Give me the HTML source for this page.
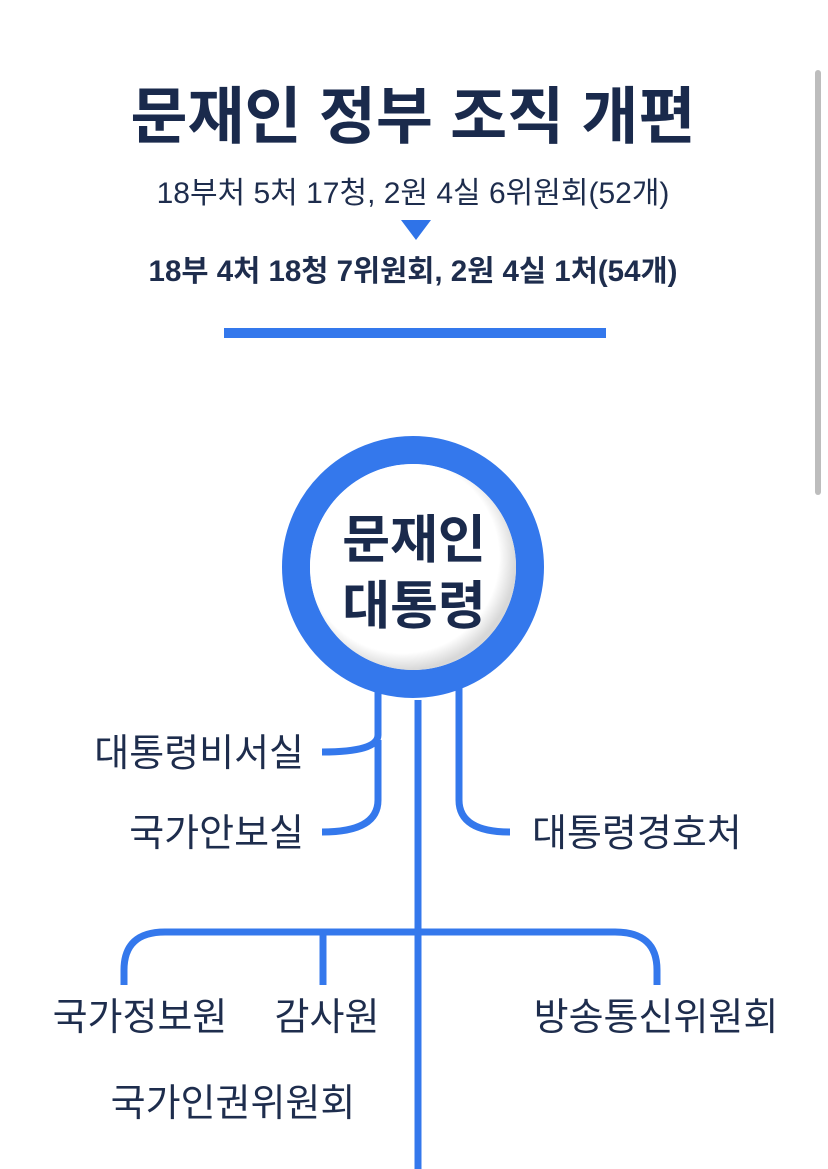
<!DOCTYPE html>
<html><head><meta charset="utf-8"><style>
html,body{margin:0;padding:0;background:#fff;}
body{width:828px;height:1169px;position:relative;overflow:hidden;font-family:"Liberation Sans","Noto Sans CJK KR",sans-serif;}
svg{position:absolute;left:0;top:0;}
</style></head><body>
<svg width="828" height="1169" viewBox="0 0 828 1169" font-family="Liberation Sans, Noto Sans CJK KR, sans-serif">
<defs>
<radialGradient id="g" cx="0.45" cy="0.45" r="0.55">
<stop offset="0.85" stop-color="#fff"/><stop offset="1" stop-color="#d8d8d8"/>
</radialGradient>
</defs>
<rect x="815" y="70" width="6" height="425" rx="3" fill="#bdbdbd"/>
<text x="413" y="138" text-anchor="middle" font-size="62" font-weight="bold" fill="#1a2a4c">문재인 정부 조직 개편</text>
<text x="413" y="203" text-anchor="middle" font-size="30" fill="#1e2d4d">18부처 5처 17청, 2원 4실 6위원회(52개)</text>
<polygon points="401,220 431,220 416,240" fill="#2f73e8"/>
<text x="413" y="281" text-anchor="middle" font-size="29.5" font-weight="bold" fill="#1e2d4d">18부 4처 18청 7위원회, 2원 4실 1처(54개)</text>
<rect x="224" y="328" width="382" height="10" fill="#3478ec"/>
<g fill="none" stroke="#3478ec" stroke-width="7">
<path d="M378,688 V735 Q378,752 322,752"/>
<path d="M378,740 V800 Q378,832 322,832"/>
<path d="M459,688 V800 Q459,832 510,832"/>
<path d="M418,700 V1169"/>
<path d="M124,985 V970 Q124,932 165,932 H615 Q657,932 657,970 V985"/>
<path d="M323,932 V985"/>
</g>
<circle cx="413" cy="567" r="117" fill="none" stroke="#3478ec" stroke-width="28"/>
<circle cx="413" cy="567" r="103" fill="url(#g)"/>
<text x="414" y="558" text-anchor="middle" font-size="52" font-weight="bold" fill="#1a2a4c">문재인</text>
<text x="414" y="624" text-anchor="middle" font-size="52" font-weight="bold" fill="#1a2a4c">대통령</text>
<g font-size="38" fill="#1e2d4d">
<text x="304" y="766" text-anchor="end">대통령비서실</text>
<text x="304" y="846" text-anchor="end">국가안보실</text>
<text x="532" y="846">대통령경호처</text>
<text x="140" y="1030" text-anchor="middle">국가정보원</text>
<text x="327" y="1030" text-anchor="middle">감사원</text>
<text x="656" y="1030" text-anchor="middle">방송통신위원회</text>
<text x="233" y="1116" text-anchor="middle">국가인권위원회</text>
</g>
</svg>
</body></html>
